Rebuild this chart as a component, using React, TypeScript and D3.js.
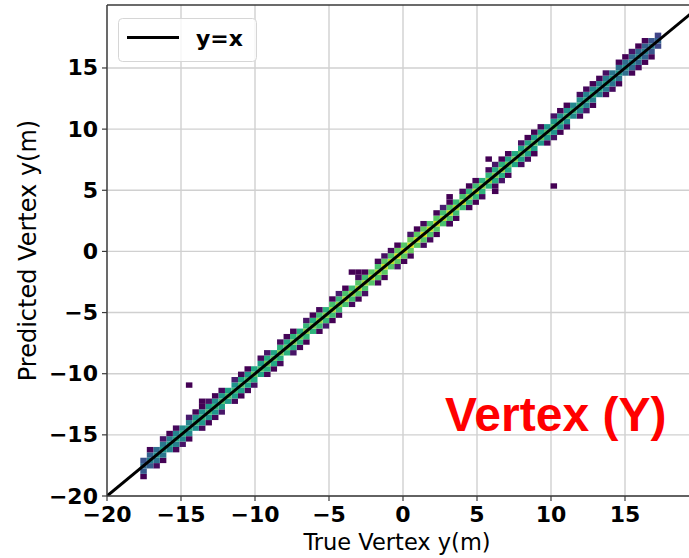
import React from "react";
import * as d3 from "d3";

// Histogram binning along both axes (same edges for true and predicted)
const binStart = -17.75;
const binWidth = 0.44;

// Counts per true-vertex bin, for the predicted bin on the diagonal (0),
// one bin above (+1) / below (-1), and two bins above (+2) / below (-2)
const countsDiag = [
  34, 44, 50, 54, 56, 59, 62, 60, 64, 66,
  68, 65, 70, 71, 67, 72, 70, 74, 71, 76,
  74, 78, 76, 79, 77, 81, 78, 82, 80, 84,
  82, 86, 83, 87, 84, 89, 86, 90, 88, 92,
  89, 93, 90, 92, 88, 91, 87, 89, 85, 88,
  83, 86, 81, 83, 79, 81, 76, 78, 74, 76,
  72, 74, 70, 71, 67, 69, 64, 66, 61, 63,
  59, 57, 55, 53, 51, 49, 47, 44, 40, 32,
];
const countsUp1 = [
  26, 32, 36, 40, 42, 44, 48, 45, 50, 51,
  53, 49, 54, 56, 51, 58, 54, 59, 55, 61,
  58, 63, 60, 64, 61, 66, 62, 68, 64, 69,
  66, 70, 67, 72, 68, 73, 70, 74, 71, 75,
  72, 76, 73, 74, 70, 73, 69, 71, 67, 69,
  65, 68, 63, 65, 61, 63, 58, 60, 56, 58,
  54, 56, 52, 53, 49, 51, 46, 48, 44, 46,
  42, 41, 39, 37, 36, 34, 33, 31, 27, 21,
];
const countsDown1 = [
  28, 30, 38, 39, 44, 43, 46, 47, 48, 53,
  51, 52, 56, 54, 55, 56, 57, 60, 58, 62,
  60, 62, 63, 62, 64, 65, 64, 67, 66, 68,
  67, 69, 68, 71, 70, 72, 71, 73, 72, 74,
  73, 75, 73, 72, 71, 72, 70, 70, 68, 68,
  66, 65, 64, 63, 62, 61, 59, 58, 57, 56,
  55, 53, 52, 51, 50, 48, 47, 46, 44, 43,
  42, 39, 39, 37, 36, 34, 33, 31, 27, 22,
];
const countsUp2 = [
  0, 2, 0, 6, 1, 3, 0, 8, 2, 1,
  5, 1, 3, 0, 9, 2, 1, 0, 3, 7,
  0, 4, 2, 1, 0, 6, 1, 3, 0, 2,
  8, 1, 0, 4, 1, 0, 2, 5, 3, 1,
  0, 6, 1, 3, 0, 2, 9, 1, 0, 4,
  1, 2, 0, 3, 7, 1, 2, 0, 5, 1,
  1, 3, 0, 6, 2, 1, 0, 4, 3, 1,
  2, 5, 0, 2, 1, 6, 1, 2, 0, 0,
];
const countsDown2 = [
  1, 0, 4, 1, 0, 2, 6, 1, 0, 3,
  1, 2, 7, 0, 3, 1, 2, 5, 0, 2,
  1, 3, 0, 6, 2, 1, 0, 2, 8, 1,
  2, 0, 3, 1, 5, 0, 2, 1, 0, 6,
  1, 2, 0, 4, 3, 1, 0, 7, 1, 0,
  2, 1, 3, 0, 2, 6, 1, 0, 4, 3,
  1, 0, 2, 5, 1, 3, 0, 2, 6, 1,
  0, 2, 4, 1, 0, 2, 3, 1, 2, 0,
];

// Isolated events away from the band: [true y, predicted y, count]
const strayEvents: [number, number, number][] = [
  [-14.3, -10.9, 1],
  [-13.6, -12.1, 1],
  [-3.45, -1.75, 1],
  [-3.0, -1.5, 1],
  [3.05, 2.15, 2],
  [3.3, 4.5, 1],
  [5.74, 7.72, 1],
  [6.2, 4.77, 1],
  [10.05, 5.18, 1],
];

const xTicks = [-20, -15, -10, -5, 0, 5, 10, 15];
const yTicks = [-20, -15, -10, -5, 0, 5, 10, 15];

const W = 689;
const H = 558;
const plot = { left: 107, top: 5, right: 689, bottom: 496 };

export default function App() {
  const x = d3.scaleLinear().domain([-20, 20]).range([plot.left, plot.left + 40 * 14.8]);
  const y = d3.scaleLinear().domain([-20, 20.15]).range([plot.bottom, plot.top]);
  const color = d3.scaleSequential(d3.interpolateViridis).domain([1, 98]);

  type Cell = { i: number; j: number; c: number };
  const cells: Cell[] = [];
  const rows: [number, number[]][] = [
    [-2, countsDown2],
    [-1, countsDown1],
    [0, countsDiag],
    [1, countsUp1],
    [2, countsUp2],
  ];
  rows.forEach(([off, arr]) => {
    arr.forEach((c, i) => {
      if (c > 0) cells.push({ i, j: i + off, c });
    });
  });
  strayEvents.forEach(([tx, py, c]) => {
    cells.push({
      i: Math.floor((tx - binStart) / binWidth),
      j: Math.floor((py - binStart) / binWidth),
      c,
    });
  });

  const font = "'DejaVu Sans', sans-serif";

  return (
    <svg
      width={W}
      height={H}
      style={{ position: "absolute", left: 0, top: 0, background: "#fff" }}
    >
      <defs>
        <clipPath id="plotArea">
          <rect
            x={plot.left}
            y={plot.top}
            width={plot.right - plot.left}
            height={plot.bottom - plot.top}
          />
        </clipPath>
      </defs>

      {/* grid */}
      <g stroke="#d0d0d0" strokeWidth={1.4}>
        {xTicks.map((t) => (
          <line key={"gx" + t} x1={x(t)} x2={x(t)} y1={plot.top} y2={plot.bottom} />
        ))}
        {yTicks.map((t) => (
          <line key={"gy" + t} x1={plot.left} x2={plot.right} y1={y(t)} y2={y(t)} />
        ))}
      </g>

      {/* 2D histogram */}
      <g clipPath="url(#plotArea)">
        {cells.map((d, k) => {
          const x0 = binStart + d.i * binWidth;
          const y0 = binStart + d.j * binWidth;
          return (
            <rect
              key={k}
              x={x(x0)}
              y={y(y0 + binWidth)}
              width={x(x0 + binWidth) - x(x0)}
              height={y(y0) - y(y0 + binWidth)}
              fill={color(d.c)}
            />
          );
        })}
        {/* y = x reference */}
        <line
          x1={x(-20)}
          y1={y(-20)}
          x2={x(20)}
          y2={y(20)}
          stroke="#000"
          strokeWidth={3}
        />
      </g>

      {/* spines */}
      <g stroke="#3a3a3a" strokeWidth={1.4} fill="none">
        <line x1={plot.left} x2={plot.left} y1={plot.top} y2={plot.bottom} />
        <line x1={plot.left} x2={plot.right} y1={plot.bottom} y2={plot.bottom} />
        <line x1={plot.left} x2={plot.right} y1={plot.top} y2={plot.top} />
      </g>

      {/* ticks and labels */}
      <g stroke="#3a3a3a" strokeWidth={1.2}>
        {xTicks.map((t) => (
          <line key={"tx" + t} x1={x(t)} x2={x(t)} y1={plot.bottom} y2={plot.bottom + 5} />
        ))}
        {yTicks.map((t) => (
          <line key={"ty" + t} x1={plot.left - 5} x2={plot.left} y1={y(t)} y2={y(t)} />
        ))}
      </g>
      <g fontFamily={font} fontWeight="bold" fontSize={22} fill="#000">
        {xTicks.map((t) => (
          <text key={"lx" + t} x={x(t)} y={plot.bottom + 26} textAnchor="middle">
            {t < 0 ? "\u2212" + Math.abs(t) : String(t)}
          </text>
        ))}
        {yTicks.map((t) => (
          <text
            key={"ly" + t}
            x={plot.left - 9}
            y={y(t)}
            textAnchor="end"
            dominantBaseline="central"
          >
            {t < 0 ? "\u2212" + Math.abs(t) : String(t)}
          </text>
        ))}
      </g>

      {/* axis titles */}
      <text
        x={(plot.left + 689) / 2 - 1}
        y={550}
        textAnchor="middle"
        fontFamily={font}
        fontSize={22.5}
        fill="#000"
      >
        True Vertex y(m)
      </text>
      <text
        transform={`translate(36, ${(plot.top + plot.bottom) / 2}) rotate(-90)`}
        textAnchor="middle"
        fontFamily={font}
        fontSize={24}
        fill="#000"
      >
        Predicted Vertex y(m)
      </text>

      {/* legend */}
      <g>
        <rect
          x={118.5}
          y={18.5}
          width={138}
          height={43}
          rx={4}
          fill="#fff"
          fillOpacity={0.8}
          stroke="#d6d6d6"
          strokeWidth={1}
        />
        <line x1={127} x2={179} y1={37.5} y2={37.5} stroke="#000" strokeWidth={3} />
        <text
          x={196}
          y={46}
          fontFamily={font}
          fontWeight="bold"
          fontSize={22}
          fill="#000"
        >
          y=x
        </text>
      </g>

      {/* panel tag */}
      <text
        x={445}
        y={431}
        fontFamily="'Liberation Sans', Arial, sans-serif"
        fontWeight="bold"
        fontSize={48}
        fill="#ff0000"
      >
        Vertex (Y)
      </text>
    </svg>
  );
}
